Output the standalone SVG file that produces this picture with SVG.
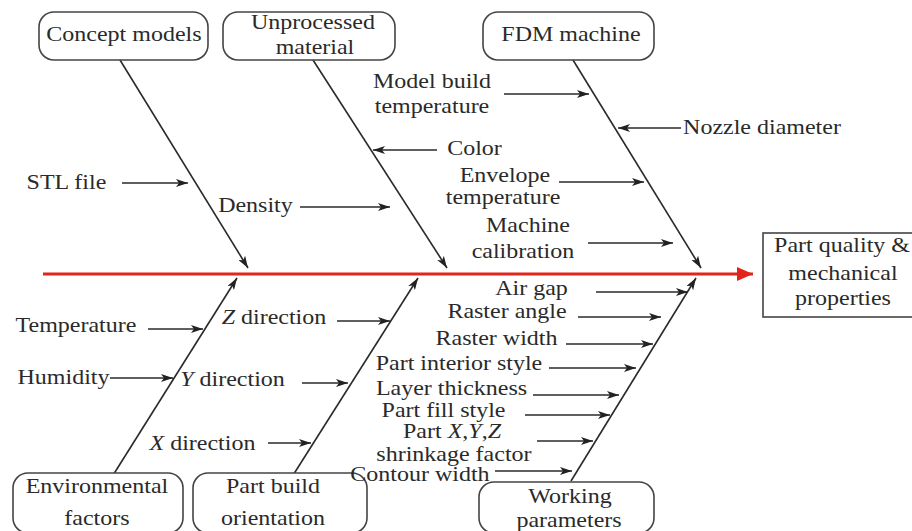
<svg xmlns="http://www.w3.org/2000/svg" width="912" height="531" viewBox="0 0 912 531">
<defs>
<marker id="ah" markerUnits="userSpaceOnUse" markerWidth="12" markerHeight="8" refX="12" refY="4" orient="auto">
<path d="M0,0 L12,4 L0,8 L3,4 Z" fill="#222"/>
</marker>
<marker id="rah" markerUnits="userSpaceOnUse" markerWidth="16" markerHeight="14" refX="16" refY="7" orient="auto">
<path d="M0,0 L16,7 L0,14 Z" fill="#e3241b"/>
</marker>
</defs>
<style>
.box{fill:#fff;stroke:#444;stroke-width:1.6}
.bone{stroke:#2a2a2a;stroke-width:1.6;fill:none;marker-end:url(#ah)}
.arr{stroke:#2a2a2a;stroke-width:1.5;fill:none;marker-end:url(#ah)}
.spine{stroke:#e3241b;stroke-width:3.2;fill:none;marker-end:url(#rah)}
.t{font-size:20px;fill:#2a2a2a;text-anchor:middle}
.it{font-style:italic}
</style>
<rect width="912" height="531" fill="#fff"/>
<g id="connectors">
<line class="spine" x1="43" y1="274" x2="753" y2="274"/>
<line class="bone" x1="120" y1="60" x2="248" y2="268"/>
<line class="bone" x1="313" y1="60" x2="447" y2="268"/>
<line class="bone" x1="573" y1="60" x2="701" y2="268"/>
<line class="bone" x1="110" y1="480" x2="237" y2="278"/>
<line class="bone" x1="290" y1="480" x2="418" y2="278"/>
<line class="bone" x1="571" y1="481" x2="696" y2="278"/>
<line class="arr" x1="122" y1="183" x2="188" y2="183"/>
<line class="arr" x1="300" y1="207" x2="390" y2="207"/>
<line class="arr" x1="437" y1="150" x2="373" y2="150"/>
<line class="arr" x1="504" y1="94" x2="589" y2="94"/>
<line class="arr" x1="681" y1="128" x2="618" y2="128"/>
<line class="arr" x1="559" y1="182" x2="644" y2="182"/>
<line class="arr" x1="588" y1="243" x2="673" y2="243"/>
<line class="arr" x1="148" y1="329" x2="203" y2="329"/>
<line class="arr" x1="110" y1="378" x2="173" y2="378"/>
<line class="arr" x1="337" y1="321" x2="390" y2="321"/>
<line class="arr" x1="302" y1="383" x2="348" y2="383"/>
<line class="arr" x1="268" y1="443" x2="311" y2="443"/>
<line class="arr" x1="596" y1="292" x2="688" y2="292"/>
<line class="arr" x1="578" y1="317" x2="661" y2="317"/>
<line class="arr" x1="566" y1="344" x2="653" y2="344"/>
<line class="arr" x1="549" y1="368" x2="636" y2="368"/>
<line class="arr" x1="533" y1="395" x2="619" y2="395"/>
<line class="arr" x1="525" y1="415" x2="610" y2="415"/>
<line class="arr" x1="537" y1="441" x2="593" y2="441"/>
<line class="arr" x1="495" y1="471" x2="572" y2="471"/>
</g>
<g font-family="'Liberation Serif', 'DejaVu Serif', serif">
<g id="concept-models">
<rect class="box" x="39" y="12" width="169" height="48" rx="15"/>
<text class="t" transform="scale(1.2 1)" x="103.3" y="41">Concept models</text>
</g>
<g id="unprocessed-material">
<rect class="box" x="223" y="12" width="172" height="48" rx="15"/>
<text class="t" transform="scale(1.2 1)" x="260.8" y="29">Unprocessed</text>
<text class="t" transform="scale(1.2 1)" x="262.5" y="54">material</text>
</g>
<g id="fdm-machine">
<rect class="box" x="483" y="12" width="171" height="48" rx="15"/>
<text class="t" transform="scale(1.2 1)" x="475.8" y="41">FDM machine</text>
</g>
<g id="part-quality">
<rect class="box" x="763" y="233" width="160" height="84"/>
<text class="t" transform="scale(1.2 1)" x="701.7" y="252">Part quality &amp;</text>
<text class="t" transform="scale(1.2 1)" x="702.5" y="280">mechanical</text>
<text class="t" transform="scale(1.2 1)" x="702.5" y="305">properties</text>
</g>
<g id="environmental-factors">
<rect class="box" x="13" y="473" width="170" height="60" rx="15"/>
<text class="t" transform="scale(1.2 1)" x="80.8" y="493">Environmental</text>
<text class="t" transform="scale(1.2 1)" x="80.8" y="525">factors</text>
</g>
<g id="part-build-orientation">
<rect class="box" x="193" y="473" width="174" height="60" rx="15"/>
<text class="t" transform="scale(1.2 1)" x="227.5" y="493">Part build</text>
<text class="t" transform="scale(1.2 1)" x="227.5" y="525">orientation</text>
</g>
<g id="working-parameters">
<rect class="box" x="479" y="482" width="175" height="51" rx="15"/>
<text class="t" transform="scale(1.2 1)" x="475" y="503">Working</text>
<text class="t" transform="scale(1.2 1)" x="474.2" y="527">parameters</text>
</g>
<g id="labels">
<text class="t" transform="scale(1.2 1)" x="360" y="88">Model build</text>
<text class="t" transform="scale(1.2 1)" x="360" y="113">temperature</text>
<text class="t" transform="scale(1.2 1)" x="395.4" y="155">Color</text>
<text class="t" transform="scale(1.2 1)" x="635" y="134">Nozzle diameter</text>
<text class="t" transform="scale(1.2 1)" x="55.4" y="189">STL file</text>
<text class="t" transform="scale(1.2 1)" x="212.9" y="212">Density</text>
<text class="t" transform="scale(1.2 1)" x="420.8" y="182">Envelope</text>
<text class="t" transform="scale(1.2 1)" x="419.2" y="204">temperature</text>
<text class="t" transform="scale(1.2 1)" x="440" y="232">Machine</text>
<text class="t" transform="scale(1.2 1)" x="435.8" y="258">calibration</text>
<text class="t" transform="scale(1.2 1)" x="63.3" y="332">Temperature</text>
<text class="t" transform="scale(1.2 1)" x="52.9" y="384">Humidity</text>
<text class="t" transform="scale(1.2 1)" x="228.3" y="324"><tspan class="it">Z</tspan> direction</text>
<text class="t" transform="scale(1.2 1)" x="193.75" y="386"><tspan class="it">Y</tspan> direction</text>
<text class="t" transform="scale(1.2 1)" x="168.75" y="450"><tspan class="it">X</tspan> direction</text>
<text class="t" transform="scale(1.2 1)" x="442.9" y="295">Air gap</text>
<text class="t" transform="scale(1.2 1)" x="422.5" y="318">Raster angle</text>
<text class="t" transform="scale(1.2 1)" x="413.75" y="345">Raster width</text>
<text class="t" transform="scale(1.2 1)" x="382.5" y="370">Part interior style</text>
<text class="t" transform="scale(1.2 1)" x="376.25" y="395">Layer thickness</text>
<text class="t" transform="scale(1.2 1)" x="369.6" y="417">Part fill style</text>
<text class="t" transform="scale(1.2 1)" x="376.7" y="438">Part <tspan class="it">X</tspan>,<tspan class="it">Y</tspan>,<tspan class="it">Z</tspan></text>
<text class="t" transform="scale(1.2 1)" x="378.3" y="461">shrinkage factor</text>
<text class="t" transform="scale(1.2 1)" x="350" y="481">Contour width</text>
</g>
</g>
</svg>
